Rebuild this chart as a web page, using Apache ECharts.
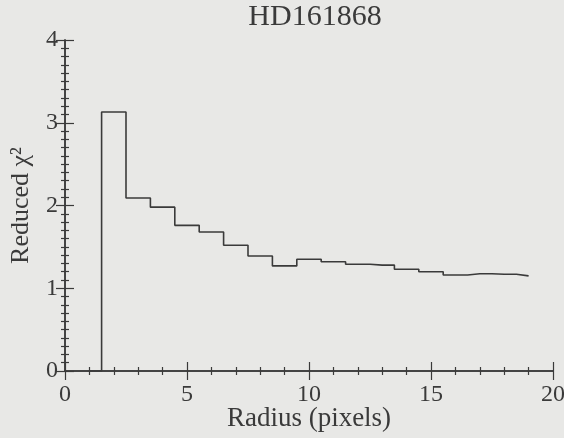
<!DOCTYPE html>
<html>
<head>
<meta charset="utf-8">
<script src="https://cdn.jsdelivr.net/npm/echarts@6/dist/echarts.min.js"></script>
<style>
  html, body { margin: 0; padding: 0; background: #e8e8e6; }
  #chart { width: 564px; height: 438px; }
</style>
</head>
<body>
<div id="chart"></div>
<script>
// Reduced chi-square per radius bin (histogram-style steps)
const radius = [1, 2, 3, 4, 5, 6, 7, 8, 9, 10, 11, 12, 13, 14, 15, 16, 17, 18, 19];
const reducedChi2 = [0, 3.13, 2.09, 1.98, 1.76, 1.68, 1.52, 1.39, 1.27, 1.35, 1.32, 1.29, 1.28, 1.23, 1.20, 1.16, 1.175, 1.17, 1.15];
const xTicks = [0, 5, 10, 15, 20];
const yTicks = [0, 1, 2, 3, 4];

const serif = "'Liberation Serif', 'Times New Roman', 'DejaVu Serif', serif";
const ink = '#3a3a3a';

function frameAxis(extra) {
  return Object.assign({
    type: 'value',
    axisLine: { show: true, lineStyle: { color: ink, width: 1.5 } },
    axisTick: { show: true, inside: true, length: 9, lineStyle: { color: ink, width: 1.2 } },
    splitLine: { show: false },
    minorSplitLine: { show: false }
  }, extra);
}

const chart = echarts.init(document.getElementById('chart'));
chart.setOption({
  backgroundColor: '#e8e8e6',
  animation: false,
  title: {
    text: 'HD161868',
    left: 310,
    textAlign: 'center',
    top: -3,
    textStyle: { fontFamily: serif, fontSize: 30, fontWeight: 'normal', color: ink }
  },
  grid: { left: 65, right: 11, top: 40, bottom: 67, containLabel: false, outerBoundsMode: 'none' },
  xAxis: [
    frameAxis({
      position: 'bottom',
      min: xTicks[0], max: xTicks[xTicks.length - 1], interval: 5,
      minorTick: { show: true, splitNumber: 5, length: 4, lineStyle: { color: ink, width: 1.2 } },
      axisLabel: { show: true, margin: 12, fontFamily: serif, fontSize: 24, color: ink },
      name: 'Radius (pixels)',
      nameLocation: 'middle',
      nameGap: 34,
      nameMoveOverlap: false,
      nameTextStyle: { fontFamily: serif, fontSize: 27, color: ink }
    }),
    frameAxis({
      position: 'top',
      min: xTicks[0], max: xTicks[xTicks.length - 1], interval: 5,
      minorTick: { show: true, splitNumber: 5, length: 4, lineStyle: { color: ink, width: 1.2 } },
      axisLabel: { show: false }
    })
  ],
  yAxis: [
    frameAxis({
      position: 'left',
      min: yTicks[0], max: yTicks[yTicks.length - 1], interval: 1,
      minorTick: { show: true, splitNumber: 10, length: 4, lineStyle: { color: ink, width: 1.2 } },
      axisLabel: { show: true, margin: 7, fontFamily: serif, fontSize: 24, color: ink },
      name: 'Reduced χ²',
      nameLocation: 'middle',
      nameRotate: 90,
      nameGap: 31,
      nameTextStyle: { fontFamily: serif, fontSize: 26, color: ink }
    }),
    frameAxis({
      position: 'right',
      min: yTicks[0], max: yTicks[yTicks.length - 1], interval: 1,
      minorTick: { show: true, splitNumber: 10, length: 4, lineStyle: { color: ink, width: 1.2 } },
      axisLabel: { show: false }
    })
  ],
  series: [{
    type: 'line',
    step: 'middle',
    xAxisIndex: 0,
    yAxisIndex: 0,
    data: radius.map((r, i) => [r, reducedChi2[i]]),
    showSymbol: false,
    symbol: 'none',
    lineStyle: { color: ink, width: 1.6 }
  }]
});
</script>
</body>
</html>
